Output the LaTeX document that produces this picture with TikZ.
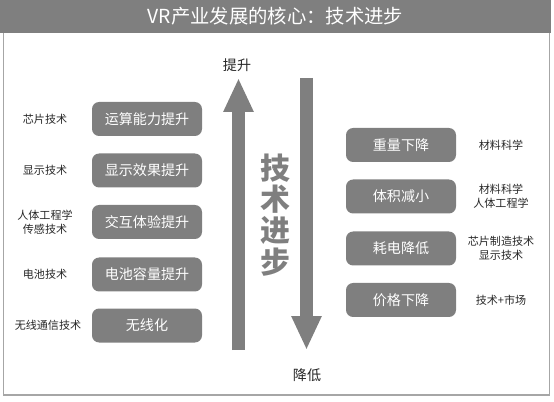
\documentclass[tikz,border=0pt]{standalone}
\usepackage{fontspec}
\setmainfont{Noto Sans CJK SC}
\usetikzlibrary{positioning, arrows.meta}
\definecolor{boxgray}{HTML}{7F7F7F}
\definecolor{framegray}{HTML}{A6A6A6}
\definecolor{lbltext}{HTML}{262626}

\begin{document}
\begin{tikzpicture}[
    titlebar/.style = {rectangle, fill=boxgray, text=white, inner sep=0pt,
                       minimum width=11.02cm, minimum height=0.66cm,
                       font=\fontsize{11}{13}\selectfont},
    gainbox/.style  = {rectangle, fill=boxgray, rounded corners=4pt, text=white,
                       minimum width=2.2cm, minimum height=0.68cm, inner sep=2pt,
                       font=\fontsize{8}{10}\selectfont},
    techlbl/.style  = {font=\fontsize{6.3}{8}\selectfont, text=lbltext, align=center},
    dirlbl/.style   = {font=\fontsize{8}{10}\selectfont, text=lbltext},
    bigtext/.style  = {font=\fontsize{17}{17.8}\selectfont\bfseries, text=boxgray,
                       align=center},
    bigarrow/.style = {line width=0.26cm, draw=boxgray,
                       -{Triangle[length=0.68cm, width=0.56cm]}},
]

%% ------------------------------------------------------------
%% coordinates
%% ------------------------------------------------------------
\def\xLbl{0.9}
\def\xL{2.94}
\def\xUp{4.77}
\def\xMid{5.5}
\def\xDn{6.13}
\def\xR{8.02}
\def\xRLbl{10.02}

\useasboundingbox (0,0) rectangle (11.08,8.02);

%% frame and title
\draw[framegray, line width=0.9pt] (0.07,0.12) rectangle (10.99,7.4);
\node[titlebar] (title) at (5.51,7.69) {VR产业发展的核心：技术进步};

%% ------------------------------------------------------------
%% left column: gains
%% ------------------------------------------------------------
\node[gainbox] (g1) at (\xL, 5.64) {运算能力提升};
\node[gainbox] (g2) at (\xL, 4.61) {显示效果提升};
\node[gainbox] (g3) at (\xL, 3.58) {交互体验提升};
\node[gainbox] (g4) at (\xL, 2.53) {电池容量提升};
\node[gainbox] (g5) at (\xL, 1.51) {无线化};

\node[techlbl] (t1) at (\xLbl, 5.64) {芯片技术};
\node[techlbl] (t2) at (\xLbl, 4.61) {显示技术};
\node[techlbl] (t3) at (\xLbl, 3.58) {人体工程学\\传感技术};
\node[techlbl] (t4) at (\xLbl, 2.53) {电池技术};
\node[techlbl] (t5) at (\xLbl+0.06, 1.51) {无线通信技术};

%% ------------------------------------------------------------
%% middle: arrows
%% ------------------------------------------------------------
\coordinate (upFoot) at (\xUp, 1.02);
\coordinate (upTip)  at (\xUp, 6.46);
\coordinate (dnFoot) at (\xDn, 6.46);
\coordinate (dnTip)  at (\xDn, 1.02);

\draw[bigarrow] (upFoot) -- (upTip);
\draw[bigarrow] (dnFoot) -- (dnTip);

\node[dirlbl] (up) at (\xUp-0.03, 6.72) {提升};
\node[dirlbl] (dn) at (\xDn+0.01, 0.52) {降低};

\node[bigtext] (core) at (\xMid, 3.72) {技\\术\\进\\步};

%% ------------------------------------------------------------
%% right column: reductions
%% ------------------------------------------------------------
\node[gainbox] (r1) at (\xR, 5.12) {重量下降};
\node[gainbox] (r2) at (\xR, 4.09) {体积减小};
\node[gainbox] (r3) at (\xR, 3.05) {耗电降低};
\node[gainbox] (r4) at (\xR, 2.02) {价格下降};

\node[techlbl] (s1) at (\xRLbl, 5.12) {材料科学};
\node[techlbl] (s2) at (\xRLbl, 4.09) {材料科学\\人体工程学};
\node[techlbl] (s3) at (\xRLbl, 3.05) {芯片制造技术\\显示技术};
\node[techlbl] (s4) at (\xRLbl, 2.02) {技术+市场};

\end{tikzpicture}
\end{document}
